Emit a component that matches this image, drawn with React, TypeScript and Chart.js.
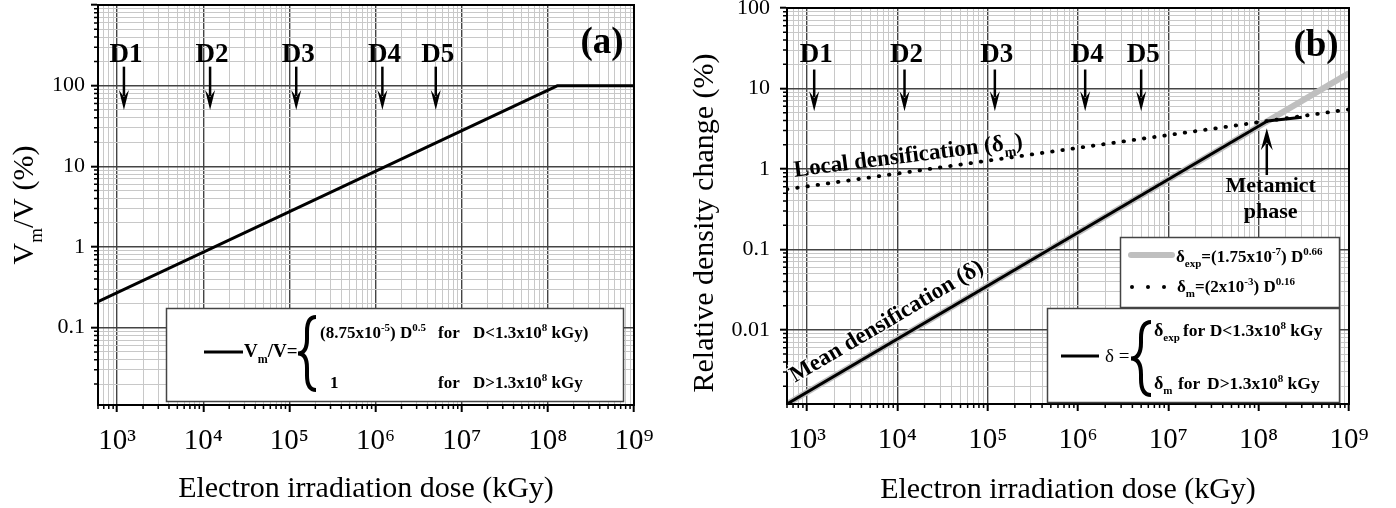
import { useEffect, useRef } from "react"
import { Chart, registerables } from "chart.js"

Chart.register(...registerables)

const SERIF = '"Liberation Serif", "Times New Roman", serif'

// (a) metamict volume fraction Vm/V (%) vs dose (kGy)
const doseA = [600, 1.3e8, 1e9]
const vmFraction = [0.21, 100, 100]

// (b) relative density change (%) vs dose (kGy)
const doseExp = [600, 1e9]
const deltaExp = [0.0012, 15.5]
const doseLocal = [600, 1e9]
const deltaLocal = [0.56, 5.5]
const doseMean = [600, 1.25e8, 3e8]
const deltaMean = [0.0012, 3.95, 4.4]

// axis ticks
const doseTickValues = [1e3, 1e4, 1e5, 1e6, 1e7, 1e8, 1e9]
const doseTickLabels = ["10³", "10⁴", "10⁵", "10⁶", "10⁷", "10⁸", "10⁹"]
const yTickValuesA = [0.1, 1, 10, 100]
const yTickLabelsA = ["0.1", "1", "10", "100"]
const yTickValuesB = [0.01, 0.1, 1, 10, 100]
const yTickLabelsB = ["0.01", "0.1", "1", "10", "100"]

// irradiation doses D1..D5
const markLabels = ["D1", "D2", "D3", "D4", "D5"]
const markDose = [1.2e3, 1.2e4, 1.2e5, 1.2e6, 5e6]
// label baseline, arrow tail, arrow tip (in y units of each panel)
const markYA = [198, 172, 50]
const markYB = [21.6, 17.2, 5.2]

// metamict phase arrow in (b)
const metamictDose = 1.23e8
const metamictArrowY = [0.84, 3.2]
const metamictTextY = [0.52, 0.246]

const isDecade = (v: number) => Math.abs(Math.log10(v) - Math.round(Math.log10(v))) < 1e-6

function logTicks(min: number, max: number) {
  const out: { value: number; major: boolean }[] = []
  for (let e = Math.floor(Math.log10(min)); e <= Math.ceil(Math.log10(max)); e++) {
    for (let m = 1; m <= 9; m++) {
      const v = Number((m * Math.pow(10, e)).toPrecision(12))
      if (v >= min * 0.9999 && v <= max * 1.0001) out.push({ value: v, major: isDecade(v) })
    }
  }
  return out
}

function logAxis(min: number, max: number, vals: number[], labels: string[], size: number, pad: number, fit: (s: any) => void) {
  return {
    type: "logarithmic",
    min,
    max,
    afterBuildTicks: (s: any) => { s.ticks = logTicks(min, max) },
    afterFit: fit,
    border: { display: true, color: "#000", width: 2 },
    grid: {
      color: (c: any) => (c.tick && isDecade(c.tick.value) ? "#444" : "#c8c8c8"),
      lineWidth: (c: any) => (c.tick && isDecade(c.tick.value) ? 1.4 : 1),
      tickColor: (c: any) => (c.tick && isDecade(c.tick.value) ? "#000" : "rgba(0,0,0,0)"),
      tickLength: 7,
      tickWidth: 2,
    },
    ticks: {
      autoSkip: false,
      maxRotation: 0,
      padding: pad,
      color: "#000",
      font: { family: SERIF, size },
      major: { enabled: false },
      callback: (v: number) => {
        const i = vals.findIndex((t) => Math.abs(t - v) / t < 1e-6)
        return i < 0 ? "" : labels[i]
      },
    },
  }
}

type Run = [string, "n" | "sub" | "sup"]

function runFont(size: number, kind: string, bold: boolean) {
  const s = kind === "n" ? size : Math.round(size * 0.62)
  return `${bold ? "bold " : ""}${s}px ${SERIF}`
}

function rich(ctx: CanvasRenderingContext2D, runs: Run[], x: number, y: number, size: number, bold = true, center = false) {
  let w = 0
  for (const [t, k] of runs) { ctx.font = runFont(size, k, bold); w += ctx.measureText(t).width }
  let cx = center ? x - w / 2 : x
  ctx.textAlign = "left"
  ctx.textBaseline = "alphabetic"
  for (const [t, k] of runs) {
    ctx.font = runFont(size, k, bold)
    const dy = k === "sub" ? size * 0.3 : k === "sup" ? -size * 0.42 : 0
    ctx.fillText(t, cx, y + dy)
    cx += ctx.measureText(t).width
  }
  return cx
}

function arrow(ctx: CanvasRenderingContext2D, x: number, y0: number, y1: number, headLen: number, headW: number) {
  const dir = Math.sign(y1 - y0)
  ctx.beginPath()
  ctx.moveTo(x, y0)
  ctx.lineTo(x, y1 - dir * headLen * 0.7)
  ctx.lineWidth = 2.5
  ctx.stroke()
  ctx.beginPath()
  ctx.moveTo(x, y1)
  ctx.lineTo(x - headW / 2, y1 - dir * headLen)
  ctx.lineTo(x, y1 - dir * headLen * 0.65)
  ctx.lineTo(x + headW / 2, y1 - dir * headLen)
  ctx.closePath()
  ctx.fill()
}

function brace(ctx: CanvasRenderingContext2D, x: number, top: number, bottom: number, w: number) {
  const mid = (top + bottom) / 2
  const xc = x + w / 2
  const r = w / 2
  ctx.beginPath()
  ctx.moveTo(x + w, top)
  ctx.quadraticCurveTo(xc, top, xc, top + r * 1.6)
  ctx.lineTo(xc, mid - r * 1.6)
  ctx.quadraticCurveTo(xc, mid, x, mid)
  ctx.quadraticCurveTo(xc, mid, xc, mid + r * 1.6)
  ctx.lineTo(xc, bottom - r * 1.6)
  ctx.quadraticCurveTo(xc, bottom, x + w, bottom)
  ctx.lineWidth = 4
  ctx.stroke()
}

function frameAndTicks(chart: any) {
  const { ctx, chartArea: ca, scales } = chart
  ctx.save()
  ctx.strokeStyle = "#000"
  ctx.lineWidth = 2
  ctx.strokeRect(ca.left, ca.top, ca.right - ca.left, ca.bottom - ca.top)
  ctx.lineWidth = 1.5
  ctx.beginPath()
  for (const t of scales.x.ticks) {
    if (isDecade(t.value)) continue
    const px = scales.x.getPixelForValue(t.value)
    ctx.moveTo(px, ca.bottom)
    ctx.lineTo(px, ca.bottom + 4)
  }
  for (const t of scales.y.ticks) {
    if (isDecade(t.value)) continue
    const py = scales.y.getPixelForValue(t.value)
    ctx.moveTo(ca.left - 4, py)
    ctx.lineTo(ca.left, py)
  }
  ctx.stroke()
  ctx.restore()
}

function markers(chart: any, ys: number[]) {
  const { ctx, scales: { x, y } } = chart
  ctx.save()
  ctx.fillStyle = "#000"
  ctx.strokeStyle = "#000"
  markDose.forEach((d, i) => {
    const px = x.getPixelForValue(d)
    ctx.font = `bold 27px ${SERIF}`
    ctx.textAlign = "center"
    ctx.textBaseline = "alphabetic"
    ctx.fillText(markLabels[i], px + 2, y.getPixelForValue(ys[0]))
    arrow(ctx, px, y.getPixelForValue(ys[1]), y.getPixelForValue(ys[2]), 20, 10)
  })
  ctx.restore()
}

function xTitle(ctx: CanvasRenderingContext2D, ca: any, baseline: number) {
  ctx.font = `30px ${SERIF}`
  ctx.fillStyle = "#000"
  ctx.textAlign = "center"
  ctx.textBaseline = "alphabetic"
  ctx.fillText("Electron irradiation dose (kGy)", (ca.left + ca.right) / 2, baseline)
}

const decoA = {
  id: "decoA",
  afterDraw(chart: any) {
    const { ctx, chartArea: ca } = chart
    frameAndTicks(chart)
    markers(chart, markYA)
    ctx.save()
    ctx.fillStyle = "#000"
    ctx.strokeStyle = "#000"
    ctx.font = `bold 37px ${SERIF}`
    ctx.textAlign = "center"
    ctx.fillText("(a)", ca.right - 32, 53)
    xTitle(ctx, ca, 497)
    ctx.save()
    ctx.translate(33, 205)
    ctx.rotate(-Math.PI / 2)
    rich(ctx, [["V", "n"], ["m", "sub"], ["/V (%)", "n"]], 0, 0, 30, false, true)
    ctx.restore()

    // legend box
    ctx.fillStyle = "#fff"
    ctx.fillRect(166, 308, 457, 93)
    ctx.lineWidth = 1.5
    ctx.strokeStyle = "#444"
    ctx.strokeRect(166.5, 308.5, 457, 93)
    ctx.strokeStyle = "#000"
    ctx.fillStyle = "#000"
    ctx.lineWidth = 3
    ctx.beginPath()
    ctx.moveTo(204, 352)
    ctx.lineTo(243, 352)
    ctx.stroke()
    rich(ctx, [["V", "n"], ["m", "sub"], ["/V=", "n"]], 244, 357, 19)
    brace(ctx, 298, 317, 390, 18)
    rich(ctx, [["(8.75x10", "n"], ["-5", "sup"], [") D", "n"], ["0.5", "sup"]], 320, 338, 17)
    rich(ctx, [["for", "n"]], 438, 338, 17)
    rich(ctx, [["D<1.3x10", "n"], ["8", "sup"], [" kGy)", "n"]], 473, 338, 17)
    rich(ctx, [["1", "n"]], 330, 388, 17)
    rich(ctx, [["for", "n"]], 438, 388, 17)
    rich(ctx, [["D>1.3x10", "n"], ["8", "sup"], [" kGy", "n"]], 473, 388, 17)
    ctx.restore()
  },
}

const decoB = {
  id: "decoB",
  afterDraw(chart: any) {
    const { ctx, chartArea: ca, scales: { x, y } } = chart
    frameAndTicks(chart)
    markers(chart, markYB)
    ctx.save()
    ctx.fillStyle = "#000"
    ctx.strokeStyle = "#000"
    ctx.font = `bold 37px ${SERIF}`
    ctx.textAlign = "center"
    ctx.fillText("(b)", ca.right - 33, 56)
    xTitle(ctx, ca, 498)
    ctx.save()
    ctx.translate(23, 223)
    ctx.rotate(-Math.PI / 2)
    rich(ctx, [["Relative density change (%)", "n"]], 0, 0, 30, false, true)
    ctx.restore()

    // local densification label along dotted line
    const aL = Math.atan2(
      y.getPixelForValue(deltaLocal[1]) - y.getPixelForValue(deltaLocal[0]),
      x.getPixelForValue(doseLocal[1]) - x.getPixelForValue(doseLocal[0])
    )
    ctx.save()
    ctx.translate(x.getPixelForValue(730), y.getPixelForValue(0.8))
    ctx.rotate(aL + 0.015)
    rich(ctx, [["Local densification (δ", "n"], ["m", "sub"], [")", "n"]], 0, 0, 23)
    ctx.restore()

    // mean densification label along the black line
    const aM = Math.atan2(
      y.getPixelForValue(deltaMean[1]) - y.getPixelForValue(deltaMean[0]),
      x.getPixelForValue(doseMean[1]) - x.getPixelForValue(doseMean[0])
    )
    ctx.save()
    ctx.translate(x.getPixelForValue(736), y.getPixelForValue(0.0022))
    ctx.rotate(aM)
    ctx.font = `bold 23px ${SERIF}`
    ctx.textAlign = "left"
    ctx.textBaseline = "alphabetic"
    ctx.strokeStyle = "rgba(255,255,255,0.9)"
    ctx.lineWidth = 3
    ctx.strokeText("Mean densification (δ)", 0, 0)
    ctx.fillText("Mean densification (δ)", 0, 0)
    ctx.restore()

    // metamict phase
    const mx = x.getPixelForValue(metamictDose)
    arrow(ctx, mx, y.getPixelForValue(metamictArrowY[0]), y.getPixelForValue(metamictArrowY[1]), 22, 12)
    ctx.font = `bold 22px ${SERIF}`
    ctx.textAlign = "center"
    ctx.textBaseline = "alphabetic"
    const tx = x.getPixelForValue(1.36e8)
    ctx.fillText("Metamict", tx, y.getPixelForValue(metamictTextY[0]))
    ctx.fillText("phase", tx, y.getPixelForValue(metamictTextY[1]))

    // upper legend
    ctx.fillStyle = "#fff"
    ctx.fillRect(430, 237, 219, 70)
    ctx.lineWidth = 1.5
    ctx.strokeStyle = "#444"
    ctx.strokeRect(430.5, 237.5, 219, 70)
    ctx.lineCap = "round"
    ctx.strokeStyle = "#bfbfbf"
    ctx.lineWidth = 6
    ctx.beginPath()
    ctx.moveTo(441, 255)
    ctx.lineTo(482, 255)
    ctx.stroke()
    ctx.lineCap = "butt"
    ctx.fillStyle = "#000"
    rich(ctx, [["δ", "n"], ["exp", "sub"], ["=(1.75x10", "n"], ["-7", "sup"], [") D", "n"], ["0.66", "sup"]], 486, 262, 17)
    for (const dx of [442, 458, 474]) {
      ctx.beginPath()
      ctx.arc(dx, 287, 2, 0, Math.PI * 2)
      ctx.fill()
    }
    rich(ctx, [["δ", "n"], ["m", "sub"], ["=(2x10", "n"], ["-3", "sup"], [") D", "n"], ["0.16", "sup"]], 487, 292, 17)

    // lower legend
    ctx.fillStyle = "#fff"
    ctx.fillRect(357, 308, 292, 94)
    ctx.strokeStyle = "#444"
    ctx.lineWidth = 1.5
    ctx.strokeRect(357.5, 308.5, 292, 94)
    ctx.strokeStyle = "#000"
    ctx.fillStyle = "#000"
    ctx.lineWidth = 3
    ctx.beginPath()
    ctx.moveTo(371, 356)
    ctx.lineTo(409, 356)
    ctx.stroke()
    rich(ctx, [["δ =", "n"]], 415, 362, 19, false)
    brace(ctx, 441, 322, 395, 20)
    rich(ctx, [["δ", "n"], ["exp", "sub"]], 464, 336, 18)
    rich(ctx, [["for D<1.3x10", "n"], ["8", "sup"], [" kGy", "n"]], 493, 336, 17.5)
    rich(ctx, [["δ", "n"], ["m", "sub"]], 464, 389, 18)
    rich(ctx, [["for", "n"]], 488, 389, 17.5)
    rich(ctx, [["D>1.3x10", "n"], ["8", "sup"], [" kGy", "n"]], 517, 389, 17.5)
    ctx.restore()
  },
}

const pts = (xs: number[], ys: number[]) => xs.map((v, i) => ({ x: v, y: ys[i] }))

const baseOptions = {
  responsive: false,
  animation: false as const,
  events: [] as any[],
  plugins: { legend: { display: false }, tooltip: { enabled: false } },
  elements: { point: { radius: 0 }, line: { tension: 0 } },
}

function makeA(): any {
  return {
    type: "line",
    data: {
      datasets: [
        { data: pts(doseA, vmFraction), borderColor: "#000", borderWidth: 3, borderJoinStyle: "round" },
      ],
    },
    options: {
      ...baseOptions,
      layout: { padding: { left: 0, top: 5, right: 56, bottom: 0 } },
      scales: {
        x: logAxis(600, 1e9, doseTickValues, doseTickLabels, 29, 12, (s: any) => { s.height = 103; s.paddingLeft = 0; s.paddingRight = 0 }),
        y: logAxis(0.011, 1000, yTickValuesA, yTickLabelsA, 22, 6, (s: any) => { s.width = 98; s.paddingTop = 0; s.paddingBottom = 0 }),
      },
    },
    plugins: [decoA],
  }
}

function makeB(): any {
  return {
    type: "line",
    data: {
      datasets: [
        { data: pts(doseMean, deltaMean), borderColor: "#000", borderWidth: 3, borderJoinStyle: "round" },
        { data: pts(doseLocal, deltaLocal), borderColor: "#000", borderWidth: 3.8, borderDash: [0.5, 9.8], borderCapStyle: "round" },
        { data: pts(doseExp, deltaExp), borderColor: "#bfbfbf", borderWidth: 6 },
      ],
    },
    options: {
      ...baseOptions,
      layout: { padding: { left: 0, top: 8, right: 47, bottom: 0 } },
      scales: {
        x: logAxis(600, 1e9, doseTickValues, doseTickLabels, 29, 12, (s: any) => { s.height = 104; s.paddingLeft = 0; s.paddingRight = 0 }),
        y: logAxis(0.0012, 100, yTickValuesB, yTickLabelsB, 22, 10, (s: any) => { s.width = 97; s.paddingTop = 0; s.paddingBottom = 0 }),
      },
    },
    plugins: [decoB],
  }
}

const ChartCanvas = ({ make, width, height, left }: { make: () => any; width: number; height: number; left: number }) => {
  const ref = useRef<HTMLCanvasElement>(null)

  useEffect(() => {
    if (!ref.current) return
    const ctx = ref.current.getContext("2d")
    if (!ctx) return
    const c = new Chart(ctx, make())
    return () => {
      c.destroy()
    }
  }, [make])

  return <canvas ref={ref} width={width} height={height} style={{ position: "absolute", left, top: 0 }} />
}

export default function App() {
  return (
    <div style={{ position: "absolute", left: 0, top: 0, width: 1396, height: 508, background: "#fff" }}>
      <ChartCanvas make={makeA} width={690} height={508} left={0} />
      <ChartCanvas make={makeB} width={706} height={508} left={690} />
    </div>
  )
}
